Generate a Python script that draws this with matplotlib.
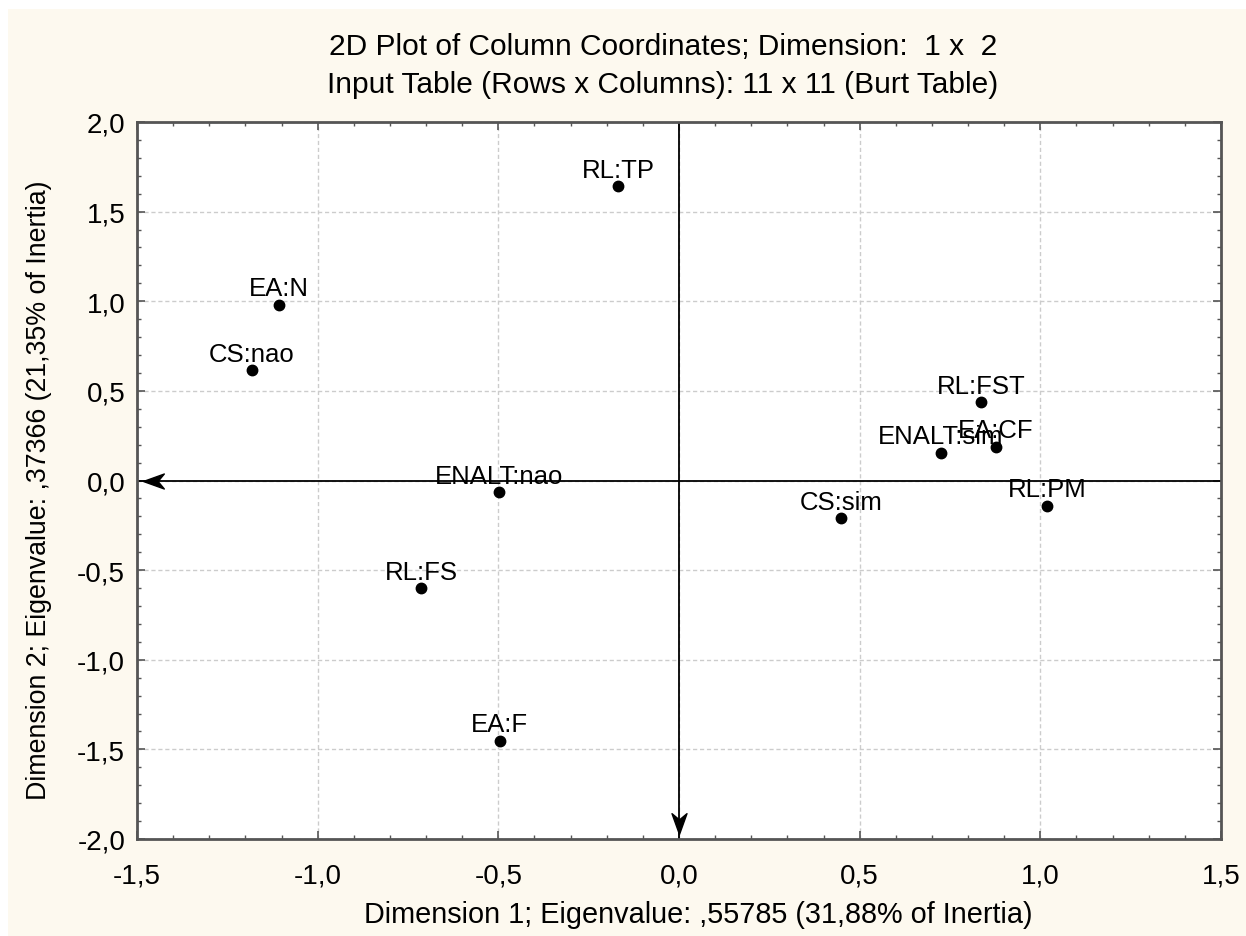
import numpy as np
import matplotlib
matplotlib.use('Agg')
import matplotlib.pyplot as plt
from matplotlib.path import Path
from matplotlib.patches import Rectangle
from matplotlib.ticker import MultipleLocator, FuncFormatter

plt.rcParams['font.family'] = ['Liberation Sans', 'DejaVu Sans']

# column coordinates (dimension 1, dimension 2)
labels = ['RL:TP', 'EA:N', 'CS:nao', 'RL:FST', 'ENALT:sim', 'EA:CF',
          'RL:PM', 'CS:sim', 'ENALT:nao', 'RL:FS', 'EA:F']
dim1 = [-0.168, -1.107, -1.183, 0.836, 0.725, 0.877,
        1.018, 0.448, -0.498, -0.714, -0.496]
dim2 = [1.641, 0.980, 0.614, 0.436, 0.153, 0.187,
        -0.140, -0.211, -0.066, -0.601, -1.453]

title1 = "2D Plot of Column Coordinates; Dimension:  1 x  2"
title2 = "Input Table (Rows x Columns): 11 x 11 (Burt Table)"
xlab = "Dimension 1; Eigenvalue: ,55785 (31,88% of Inertia)"
ylab = "Dimension 2; Eigenvalue: ,37366 (21,35% of Inertia)"

W, H = 1246, 937
fig = plt.figure(figsize=(W/100, H/100), dpi=100, facecolor='white')
# beige panel (white margin at top and left like the original)
fig.patches.append(Rectangle((8/W, 0), 1, 1 - 10/H, transform=fig.transFigure,
                             facecolor='#fdf9ef', edgecolor='none', zorder=-10))

ax = fig.add_axes([137/W, 1 - 840/H, (1221-137)/W, (840-123)/H])
ax.set_facecolor('white')
ax.set_xlim(-1.5, 1.5)
ax.set_ylim(-2.0, 2.0)

ax.xaxis.set_major_locator(MultipleLocator(0.5))
ax.xaxis.set_minor_locator(MultipleLocator(0.1))
ax.yaxis.set_major_locator(MultipleLocator(0.5))
ax.yaxis.set_minor_locator(MultipleLocator(0.1))
fmt = FuncFormatter(lambda v, p: ('%.1f' % v).replace('.', ',').replace('-0,0', '0,0'))
ax.xaxis.set_major_formatter(fmt)
ax.yaxis.set_major_formatter(fmt)

ax.tick_params(which='both', direction='in', top=True, right=True,
               labelsize=20, colors='#555555', labelcolor='black')
ax.tick_params(which='major', length=6, width=1.2)
ax.tick_params(which='minor', length=3, width=1)
ax.tick_params(axis='x', which='major', pad=17)
ax.tick_params(axis='y', which='major', pad=8.5)
for s in ax.spines.values():
    s.set_color('#555555')
    s.set_linewidth(2)

ax.grid(True, which='major', linestyle=(0, (3, 2)), color='#cccccc', linewidth=1)
ax.set_axisbelow(True)

# axes through origin with arrowheads
ax.axhline(0, color='black', lw=1.3, zorder=2)
ax.axvline(0, color='black', lw=1.3, zorder=2)
head = Path([(0, 0), (1, 0.36), (0.7, 0), (1, -0.36), (0, 0)],
            [Path.MOVETO, Path.LINETO, Path.LINETO, Path.LINETO, Path.CLOSEPOLY])
head_down = Path([(0, 0), (0.36, 1), (0, 0.7), (-0.36, 1), (0, 0)],
                 [Path.MOVETO, Path.LINETO, Path.LINETO, Path.LINETO, Path.CLOSEPOLY])
x0, x1 = ax.get_xlim()
y0, y1 = ax.get_ylim()
ax.plot([x0 + 0.017], [0], marker=head, markersize=30, color='black', zorder=3, clip_on=False)
ax.plot([0], [y0 + 0.03], marker=head_down, markersize=30, color='black', zorder=3, clip_on=False)

ax.plot(dim1, dim2, 'o', color='black', markersize=7.5, zorder=4)
for lab, x, y in zip(labels, dim1, dim2):
    ax.annotate(lab, (x, y), xytext=(0, 7), textcoords='offset points',
                ha='center', va='baseline', fontsize=18.5, zorder=5)

fig.text(663/W, 1 - 47/H, title1, ha='center', va='center', fontsize=21.5)
fig.text(663/W, 1 - 85/H, title2, ha='center', va='center', fontsize=21.5)
fig.text(698/W, 1 - 915/H, xlab, ha='center', va='center', fontsize=20.8)
fig.text(39/W, 1 - 490/H, ylab, ha='center', va='center', fontsize=19.3, rotation=90)

fig.savefig('out.png', dpi=100, facecolor=fig.get_facecolor())
